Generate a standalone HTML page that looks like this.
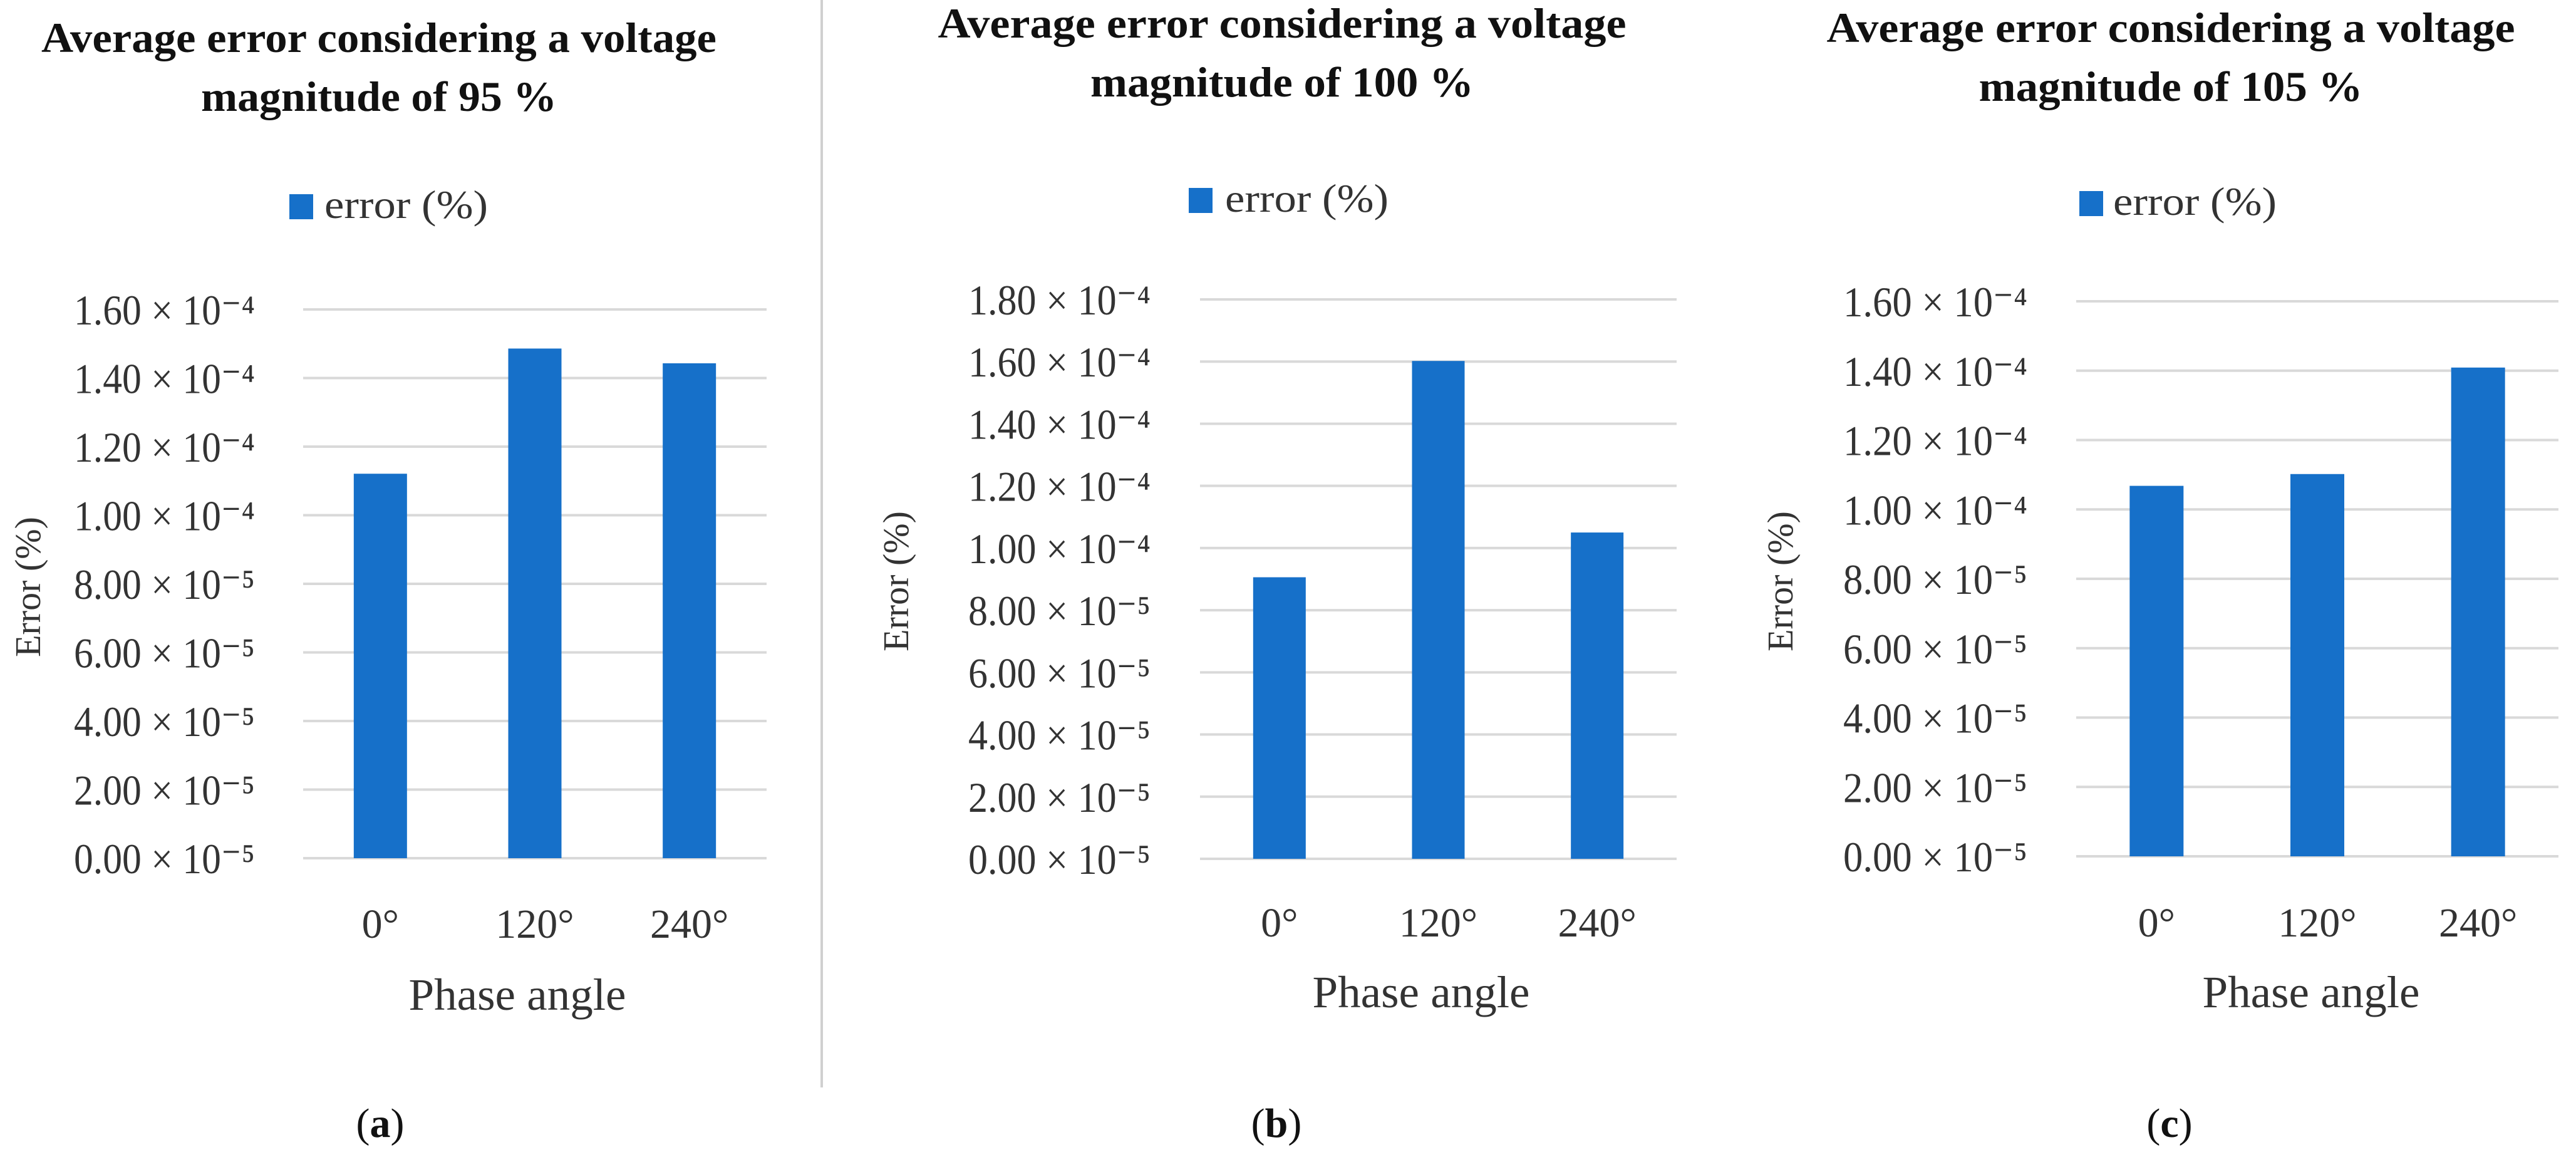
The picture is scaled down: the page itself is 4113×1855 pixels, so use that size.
<!DOCTYPE html>
<html><head><meta charset="utf-8"><style>
html,body{margin:0;padding:0;background:#fff;}
svg{display:block;font-family:"Liberation Serif",serif;}
</style></head><body>
<svg id="fig" width="4113" height="1855" viewBox="0 0 4113 1855" xmlns="http://www.w3.org/2000/svg">
<rect width="4113" height="1855" fill="#fff"/>
<line x1="1312" y1="0" x2="1312" y2="1736" stroke="#d0d0d0" stroke-width="4"/>
</svg>
<script>
const categories = ["0°", "120°", "240°"];
const valuesA = [1.121e-4, 1.486e-4, 1.443e-4];
const valuesB = [0.906e-4, 1.602e-4, 1.050e-4];
const valuesC = [1.068e-4, 1.102e-4, 1.409e-4];
const ticksA = ["0.00 × 10⁻⁵","2.00 × 10⁻⁵","4.00 × 10⁻⁵","6.00 × 10⁻⁵","8.00 × 10⁻⁵","1.00 × 10⁻⁴","1.20 × 10⁻⁴","1.40 × 10⁻⁴","1.60 × 10⁻⁴"];
const ticksB = ["0.00 × 10⁻⁵","2.00 × 10⁻⁵","4.00 × 10⁻⁵","6.00 × 10⁻⁵","8.00 × 10⁻⁵","1.00 × 10⁻⁴","1.20 × 10⁻⁴","1.40 × 10⁻⁴","1.60 × 10⁻⁴","1.80 × 10⁻⁴"];
const ticksC = ticksA;
const titlesA = ["Average error considering a voltage", "magnitude of 95 %"];
const titlesB = ["Average error considering a voltage", "magnitude of 100 %"];
const titlesC = ["Average error considering a voltage", "magnitude of 105 %"];

const NS = "http://www.w3.org/2000/svg";
const svg = document.getElementById("fig");
function mk(tag, attrs, parent) {
  const e = document.createElementNS(NS, tag);
  for (const k in attrs) e.setAttribute(k, attrs[k]);
  (parent || svg).appendChild(e);
  return e;
}

const panels = [
  {id:"a", vals:valuesA, ticks:ticksA, titles:titlesA, step:2e-5,
   x0:484, x1:1224, yTop:494, y0:1370, barW:85, tickLeft:118, tickRight:407,
   ylabX:44, ylabY:937, titleX:605, titleY:[83,177], titleW:[1078,568],
   legSq:[462,310], legText:[518,348], xtickY:1497, xtitleX:826, xtitleY:1612, capX:607},
  {id:"b", vals:valuesB, ticks:ticksB, titles:titlesB, step:2e-5,
   x0:1916, x1:2677, yTop:478, y0:1371, barW:84, tickLeft:1546, tickRight:1837,
   ylabX:1430, ylabY:928, titleX:2047, titleY:[60,154], titleW:[1099,612],
   legSq:[1898,300], legText:[1956,338], xtickY:1495, xtitleX:2269, xtitleY:1608, capX:2038},
  {id:"c", vals:valuesC, ticks:ticksC, titles:titlesC, step:2e-5,
   x0:3315, x1:4085, yTop:481, y0:1367, barW:86, tickLeft:2943, tickRight:3237,
   ylabX:2842, ylabY:928, titleX:3466, titleY:[67,161], titleW:[1099,613],
   legSq:[3320,305], legText:[3374,343], xtickY:1495, xtitleX:3690, xtitleY:1608, capX:3464}
];

panels.forEach(p => {
  const g = mk("g", {});
  
  
  const maxV = (p.ticks.length - 1) * p.step;
  const yScale = v => p.y0 - (v / maxV) * (p.y0 - p.yTop);
  const band = (p.x1 - p.x0) / categories.length;
  const xCenter = i => p.x0 + band * (i + 0.5);

  p.titles.forEach((t, i) => {
    const tt = mk("text", {x:p.titleX, y:p.titleY[i], "text-anchor":"middle", "font-size":68, "font-weight":"bold", fill:"#111", textLength:p.titleW[i], lengthAdjust:"spacingAndGlyphs"}, g);
    tt.textContent = t;
    
    
  });
  const ls = mk("rect", {x:p.legSq[0], y:p.legSq[1], width:38, height:40, fill:"#1670c9"}, g);
  
  
  const lt = mk("text", {x:p.legText[0], y:p.legText[1], "font-size":64, fill:"#333", textLength:261, lengthAdjust:"spacingAndGlyphs"}, g);
  lt.textContent = "error (%)";
  
  

  p.ticks.forEach((lab, i) => {
    const y = yScale(i * p.step);
    const gl = mk("line", {x1:p.x0, x2:p.x1, y1:y, y2:y, stroke:"#d9d9d9", "stroke-width":4}, g);
    
    
    const tl = mk("text", {x:p.tickLeft, y:y + 24, "font-size":68, fill:"#333", textLength:p.tickRight - p.tickLeft, lengthAdjust:"spacingAndGlyphs"}, g);
    tl.textContent = lab;
    
    
  });

  p.vals.forEach((v, i) => {
    const top = yScale(v);
    const b = mk("rect", {x:xCenter(i) - p.barW / 2, y:top, width:p.barW, height:p.y0 - top, fill:"#1670c9"}, g);
    
    
    const xl = mk("text", {x:xCenter(i), y:p.xtickY, "text-anchor":"middle", "font-size":66, fill:"#333"}, g);
    xl.textContent = categories[i];
    
    
  });

  const yt = mk("text", {x:0, y:0, "text-anchor":"middle", "font-size":58, fill:"#333", transform:"translate(" + (p.ylabX + 20) + "," + p.ylabY + ") rotate(-90)"}, g);
  yt.textContent = "Error (%)";
  
  
  const xt = mk("text", {x:p.xtitleX, y:p.xtitleY, "text-anchor":"middle", "font-size":72, fill:"#333", textLength:347, lengthAdjust:"spacingAndGlyphs"}, g);
  xt.textContent = "Phase angle";
  
  
  const cap = mk("text", {x:p.capX, y:1815, "text-anchor":"middle", "font-size":66, fill:"#111"}, g);
  cap.innerHTML = "(<tspan font-weight='bold'>" + p.id + "</tspan>)";
  
  
});
</script>
</body></html>
